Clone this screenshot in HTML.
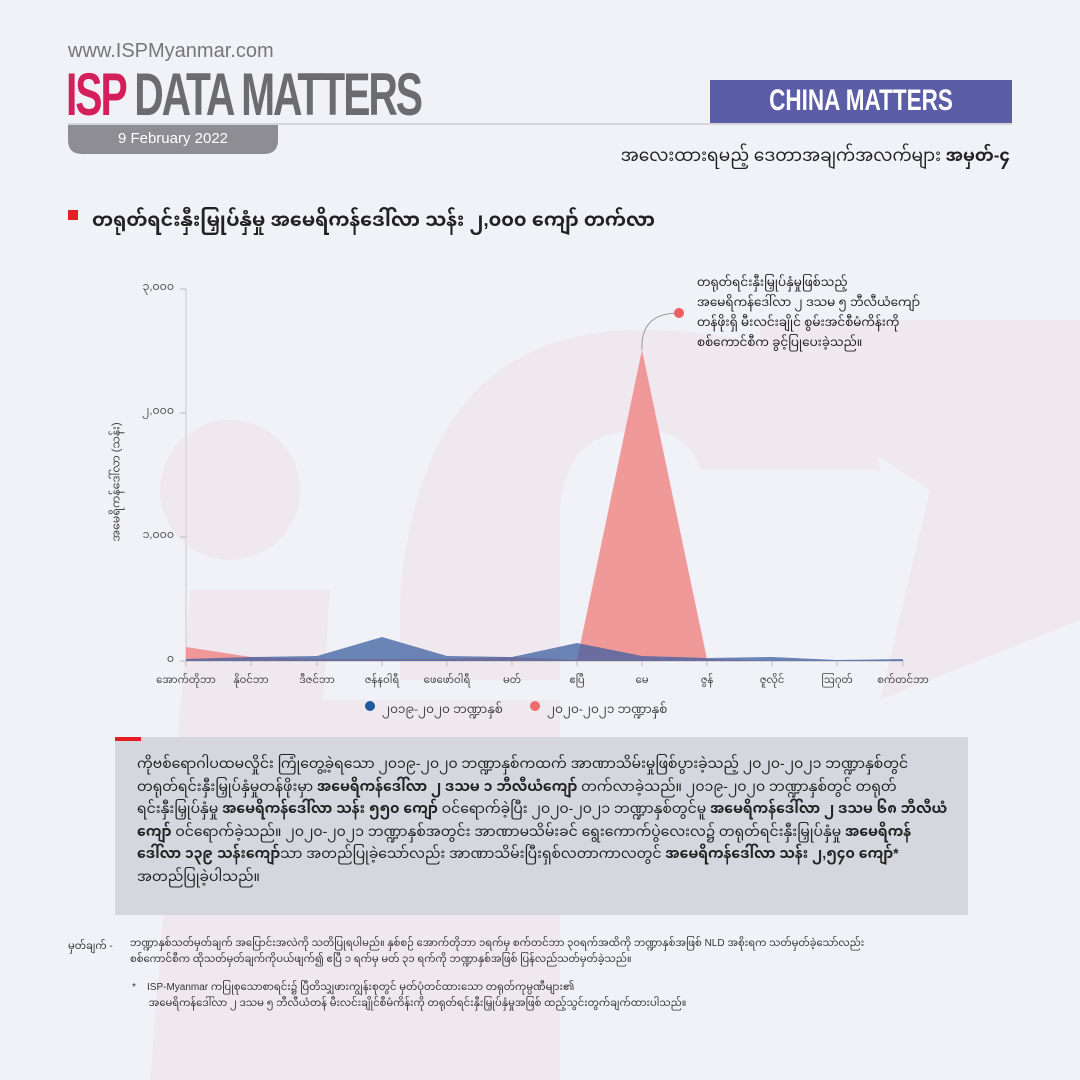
<!DOCTYPE html>
<html><head><meta charset="utf-8"><style>
body{margin:0;width:1080px;height:1080px;background:#f1f1f8;position:relative;overflow:hidden;font-family:"Liberation Sans","Noto Sans Myanmar","Padauk",sans-serif;color:#222}
.a{position:absolute;white-space:nowrap}
</style></head><body>
<svg class="a" style="left:0;top:0" width="1080" height="1080">
<g fill="#efe4ea" opacity="0.6">
<circle cx="230" cy="490" r="70"/>
<path d="M150 1080 L190 590 L330 590 L300 1080Z"/>
<path d="M400 600 Q420 330 640 330 Q860 330 880 470 L700 470 Q690 430 640 430 Q560 430 560 520 L560 680 L400 680Z"/>
<path d="M760 320 L1080 320 L1080 620 L880 700 L930 490 L760 380Z"/>
<path d="M260 700 L560 700 L560 1080 L250 1080Z"/>
</g>
<line x1="68" y1="124" x2="1012" y2="124" stroke="#bbb" stroke-width="1"/>
<path d="M68 125 H278 V140 Q278 154 264 154 H82 Q68 154 68 140Z" fill="#8d8d93"/>
<rect x="710" y="80" width="302" height="43" fill="#5b5ea6"/>
<rect x="68" y="210" width="10" height="10" fill="#e31e24"/>
<line x1="186" y1="289" x2="186" y2="661" stroke="#ccc"/>
<g stroke="#bbb"><line x1="180" y1="289" x2="186" y2="289"/><line x1="180" y1="413" x2="186" y2="413"/><line x1="180" y1="537" x2="186" y2="537"/><line x1="180" y1="661" x2="186" y2="661"/></g>
<line x1="186" y1="661" x2="903" y2="661" stroke="#bbb"/>
<g stroke="#bbb"><line x1="186" y1="661" x2="186" y2="666"/><line x1="251" y1="661" x2="251" y2="666"/><line x1="317" y1="661" x2="317" y2="666"/><line x1="382" y1="661" x2="382" y2="666"/><line x1="447" y1="661" x2="447" y2="666"/><line x1="512" y1="661" x2="512" y2="666"/><line x1="577" y1="661" x2="577" y2="666"/><line x1="642" y1="661" x2="642" y2="666"/><line x1="707" y1="661" x2="707" y2="666"/><line x1="772" y1="661" x2="772" y2="666"/><line x1="837" y1="661" x2="837" y2="666"/><line x1="903" y1="661" x2="903" y2="666"/></g>
<path d="M186 661 L186 647 L251 657 L317 659 L382 659 L447 659 L512 657 L577 660 L642 350 L707 659 L772 661 L903 661Z" fill="#f08a88" opacity="0.85"/>
<path d="M186 661 L186 659 L251 657 L317 656 L382 637 L447 656 L512 657 L577 643 L642 656 L707 658 L772 657 L837 660 L903 659 L903 661Z" fill="#3e5fa0" opacity="0.75"/>
<path d="M642 350 Q640 313 679 313" fill="none" stroke="#999" stroke-width="1"/>
<circle cx="679" cy="313" r="5" fill="#ef5d60"/>
<circle cx="370" cy="706" r="5" fill="#1f5a9e"/>
<circle cx="535" cy="706" r="5" fill="#ef6b6e"/>
<rect x="115" y="737" width="853" height="178" fill="#d6d7de"/>
<rect x="115" y="737" width="26" height="4" fill="#e31e24"/>
</svg>
<div class="a" style="left:68px;top:40px;font-size:20px;color:#777">www.ISPMyanmar.com</div>
<div class="a" style="left:66px;top:60px;font-size:60px;font-weight:bold;letter-spacing:-3px;transform:scaleX(0.68);transform-origin:left;color:#6c6c70"><span style="color:#d4205a">ISP</span> DATA MATTERS</div>
<div class="a" style="left:68px;top:130px;width:210px;text-align:center;font-size:15px;color:#fff">9 February 2022</div>
<div class="a" style="left:710px;top:84px;width:302px;text-align:center;font-size:30px;font-weight:bold;color:#fff;transform:scaleX(0.75)">CHINA MATTERS</div>
<div class="a" style="right:70px;top:138px;font-size:17px">အလေးထားရမည့် ဒေတာအချက်အလက်များ <b>အမှတ်-၄</b></div>
<div class="a" style="left:92px;top:202px;font-size:19px;font-weight:bold">တရုတ်ရင်းနှီးမြှုပ်နှံမှု အမေရိကန်ဒေါ်လာ သန်း ၂,၀၀၀ ကျော် တက်လာ</div>
<div style="position:absolute;left:130px;top:282px;width:44px;text-align:right;font-size:11px;color:#555;line-height:1">
<div style="position:absolute;right:0;top:0">၃,၀၀၀</div><div style="position:absolute;right:0;top:124px">၂,၀၀၀</div><div style="position:absolute;right:0;top:248px">၁,၀၀၀</div><div style="position:absolute;right:0;top:372px">၀</div></div>
<div class="a" style="left:58px;top:470px;font-size:11px;color:#444;transform:rotate(-90deg);transform-origin:center">အမေရိကန်ဒေါ်လာ (သန်း)</div>
<div style="position:absolute;top:670px;left:0;font-size:10px;color:#444">
<span class="a" style="left:156px;width:60px;text-align:center">အောက်တိုဘာ</span><span class="a" style="left:221px;width:60px;text-align:center">နိုဝင်ဘာ</span><span class="a" style="left:287px;width:60px;text-align:center">ဒီဇင်ဘာ</span><span class="a" style="left:352px;width:60px;text-align:center">ဇန်နဝါရီ</span><span class="a" style="left:417px;width:60px;text-align:center">ဖေဖော်ဝါရီ</span><span class="a" style="left:482px;width:60px;text-align:center">မတ်</span><span class="a" style="left:547px;width:60px;text-align:center">ဧပြီ</span><span class="a" style="left:612px;width:60px;text-align:center">မေ</span><span class="a" style="left:677px;width:60px;text-align:center">ဇွန်</span><span class="a" style="left:742px;width:60px;text-align:center">ဇူလိုင်</span><span class="a" style="left:807px;width:60px;text-align:center">ဩဂုတ်</span><span class="a" style="left:873px;width:60px;text-align:center">စက်တင်ဘာ</span></div>
<div class="a" style="left:382px;top:698px;font-size:12px;color:#444">၂၀၁၉-၂၀၂၀ ဘဏ္ဍာနှစ်</div>
<div class="a" style="left:547px;top:698px;font-size:12px;color:#444">၂၀၂၀-၂၀၂၁ ဘဏ္ဍာနှစ်</div>
<div class="a" style="left:697px;top:272px;font-size:12px;line-height:20px;color:#222">တရုတ်ရင်းနှီးမြှုပ်နှံမှုဖြစ်သည့်<br>အမေရိကန်ဒေါ်လာ ၂ ဒသမ ၅ ဘီလီယံကျော်<br>တန်ဖိုးရှိ မီးလင်းချိုင် စွမ်းအင်စီမံကိန်းကို<br>စစ်ကောင်စီက ခွင့်ပြုပေးခဲ့သည်။</div>
<div style="position:absolute;left:137px;top:752px;width:812px;font-size:14px;line-height:22.5px;color:#222">ကိုဗစ်ရောဂါပထမလှိုင်း ကြုံတွေ့ခဲ့ရသော ၂၀၁၉-၂၀၂၀ ဘဏ္ဍာနှစ်ကထက် အာဏာသိမ်းမှုဖြစ်ပွားခဲ့သည့် ၂၀၂၀-၂၀၂၁ ဘဏ္ဍာနှစ်တွင် တရုတ်ရင်းနှီးမြှုပ်နှံမှုတန်ဖိုးမှာ <b>အမေရိကန်ဒေါ်လာ ၂ ဒသမ ၁ ဘီလီယံကျော်</b> တက်လာခဲ့သည်။ ၂၀၁၉-၂၀၂၀ ဘဏ္ဍာနှစ်တွင် တရုတ်ရင်းနှီးမြှုပ်နှံမှု <b>အမေရိကန်ဒေါ်လာ သန်း ၅၅၀ ကျော်</b> ဝင်ရောက်ခဲ့ပြီး ၂၀၂၀-၂၀၂၁ ဘဏ္ဍာနှစ်တွင်မူ <b>အမေရိကန်ဒေါ်လာ ၂ ဒသမ ၆၈ ဘီလီယံကျော်</b> ဝင်ရောက်ခဲ့သည်။ ၂၀၂၀-၂၀၂၁ ဘဏ္ဍာနှစ်အတွင်း အာဏာမသိမ်းခင် ရွေးကောက်ပွဲလေးလ၌ တရုတ်ရင်းနှီးမြှုပ်နှံမှု <b>အမေရိကန်ဒေါ်လာ ၁၃၉ သန်းကျော်</b>သာ အတည်ပြုခဲ့သော်လည်း အာဏာသိမ်းပြီးရှစ်လတာကာလတွင် <b>အမေရိကန်ဒေါ်လာ သန်း ၂,၅၄၀ ကျော်*</b> အတည်ပြုခဲ့ပါသည်။</div>
<div class="a" style="left:68px;top:936px;font-size:10px;color:#333">မှတ်ချက် -</div>
<div style="position:absolute;left:130px;top:936px;width:830px;font-size:10px;line-height:16px;color:#333">ဘဏ္ဍာနှစ်သတ်မှတ်ချက် အပြောင်းအလဲကို သတိပြုရပါမည်။ နှစ်စဉ် အောက်တိုဘာ ၁ရက်မှ စက်တင်ဘာ ၃၀ရက်အထိကို ဘဏ္ဍာနှစ်အဖြစ် NLD အစိုးရက သတ်မှတ်ခဲ့သော်လည်း<br>စစ်ကောင်စီက ထိုသတ်မှတ်ချက်ကိုပယ်ဖျက်၍ ဧပြီ ၁ ရက်မှ မတ် ၃၁ ရက်ကို ဘဏ္ဍာနှစ်အဖြစ် ပြန်လည်သတ်မှတ်ခဲ့သည်။</div>
<div style="position:absolute;left:132px;top:980px;width:870px;font-size:10px;line-height:16px;color:#333">*&nbsp;&nbsp;&nbsp; ISP-Myanmar ကပြုစုသောစာရင်း၌ ပြီတိသျှဖားကျွန်းစုတွင် မှတ်ပုံတင်ထားသော တရုတ်ကုမ္ပဏီများ၏<br>&nbsp;&nbsp;&nbsp;&nbsp;&nbsp; အမေရိကန်ဒေါ်လာ ၂ ဒသမ ၅ ဘီလီယံတန် မီးလင်းချိုင်စီမံကိန်းကို တရုတ်ရင်းနှီးမြှုပ်နှံမှုအဖြစ် ထည့်သွင်းတွက်ချက်ထားပါသည်။</div>
</body></html>
